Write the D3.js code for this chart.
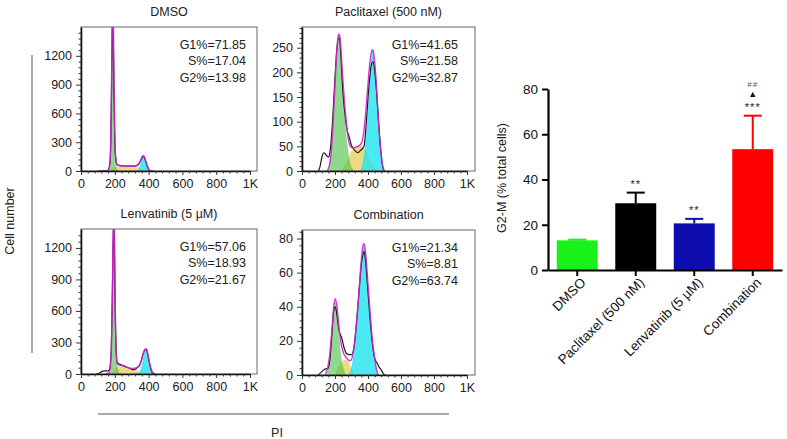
<!DOCTYPE html>
<html><head><meta charset="utf-8">
<script src="https://cdn.jsdelivr.net/npm/d3@7"></script>
<style>body{margin:0;background:#fff}svg{display:block;font-family:"Liberation Sans",Arial,sans-serif}</style>
</head><body><svg id="c" width="787" height="439"></svg>
<script>
// ---------- DATA ----------
const panelTitles = ["DMSO", "Paclitaxel (500 nM)", "Lenvatinib (5 µM)", "Combination"];
const g1Pct = ["71.85", "41.65", "57.06", "21.34"];
const sPct  = ["17.04", "21.58", "18.93", "8.81"];
const g2Pct = ["13.98", "32.87", "21.67", "63.74"];
const histYMax = [1500, 292, 1380, 85];
const histYTicks = [[0,300,600,900,1200],[0,50,100,150,200,250],[0,300,600,900,1200],[0,20,40,60,80]];
const histXTicks = [0,200,400,600,800,1000];
const histXLabels = ["0","200","400","600","800","1K"];

// DMSO
const dmsoData = [[100,0],[140,2],[160,8],[172,100],[178,500],[183,1200],[187,1700],[191,1400],[195,800],[200,300],[206,120],[214,65],[240,55],[280,50],[320,52],[340,70],[355,115],[365,150],[372,150],[382,105],[392,50],[402,12],[412,2],[430,0]];
const dmsoFit  = [[140,0],[160,5],[170,60],[176,300],[180,800],[184,1400],[188,1750],[192,1500],[196,900],[200,400],[205,150],[212,70],[225,55],[260,52],[300,50],[330,55],[345,80],[355,120],[365,160],[372,157],[382,110],[392,55],[402,15],[412,2],[420,0]];
const dmsoG1   = [[150,0],[165,10],[172,80],[178,450],[184,1300],[188,1700],[192,1400],[197,700],[202,250],[208,60],[216,10],[225,0]];
const dmsoS    = [[175,0],[190,30],[210,45],[260,45],[300,44],[330,42],[350,30],[365,12],[380,0]];
const dmsoG2   = [[320,0],[335,10],[345,40],[355,100],[365,155],[372,152],[382,105],[392,50],[402,12],[412,0]];
// Paclitaxel
const pacData = [[100,0],[110,10],[122,30],[133,37],[145,33],[160,28],[172,45],[185,100],[200,190],[212,250],[222,270],[228,268],[236,230],[248,160],[262,110],[272,85],[285,70],[300,52],[320,42],[339,37],[355,42],[376,50],[390,100],[405,170],[420,215],[430,222],[440,205],[452,160],[465,95],[478,40],[490,8],[500,0]];
const pacFit  = [[150,0],[165,10],[180,50],[195,140],[210,240],[220,275],[226,278],[232,265],[245,200],[260,130],[275,80],[290,52],[305,47],[320,48],[340,50],[360,56],[380,95],[395,155],[410,215],[422,242],[428,246],[436,235],[450,180],[462,110],[475,50],[488,12],[497,0]];
const pacG1   = [[155,0],[170,20],[185,80],[200,170],[212,240],[222,275],[228,276],[236,245],[248,175],[260,110],[275,55],[290,20],[305,5],[320,0]];
const pacS    = [[240,0],[260,12],[285,30],[310,45],[340,52],[365,50],[390,38],[415,20],[440,8],[460,0]];
const pacG2   = [[350,0],[370,20],[385,60],[400,130],[412,195],[422,235],[428,244],[436,232],[450,180],[462,110],[475,50],[488,12],[497,0]];
// Lenvatinib
const lenData = [[90,0],[110,8],[125,25],[140,30],[155,28],[168,40],[178,200],[185,700],[190,1250],[194,1450],[198,1250],[202,650],[208,230],[214,110],[222,100],[250,80],[280,60],[310,42],[325,48],[335,66],[345,80],[357,130],[368,195],[378,230],[386,236],[394,195],[404,115],[414,45],[424,10],[440,0]];
const lenFit  = [[140,0],[160,5],[172,40],[180,250],[186,800],[190,1300],[194,1500],[198,1300],[202,700],[207,250],[213,110],[220,90],[240,80],[270,65],[300,52],[320,55],[340,70],[355,120],[368,190],[378,235],[386,240],[394,200],[404,120],[414,50],[424,12],[435,0]];
const lenG1   = [[165,0],[175,30],[182,250],[188,900],[192,1350],[196,1450],[200,1100],[205,500],[212,150],[220,40],[230,5],[240,0]];
const lenS    = [[185,0],[200,40],[215,70],[240,70],[270,60],[300,48],[325,38],[345,22],[365,8],[380,0]];
const lenG2   = [[330,0],[345,20],[357,70],[368,160],[378,228],[386,236],[394,195],[404,115],[414,45],[424,10],[435,0]];
// Combination
const comData = [[97,0],[120,2],[140,3.5],[158,4],[170,10],[182,25],[193,38],[202,40],[212,35],[225,26],[240,22],[255,16],[271,12.5],[285,12],[301,12],[315,16],[330,30],[345,48],[360,65],[370,71],[376,72.5],[384,68],[395,55],[410,36],[425,20],[440,10],[455,7],[465,5],[480,3],[492,1],[503,0]];
const comFit  = [[140,0],[155,4],[168,12],[180,25],[192,40],[202,44.7],[212,40],[225,27],[240,17],[255,12],[270,10],[285,8.5],[295,8.5],[310,13],[325,25],[340,42],[355,62],[368,75],[376,77],[384,73],[395,60],[410,40],[425,22],[440,10],[452,3],[462,0]];
const comG1   = [[150,0],[165,8],[178,20],[190,36],[200,43],[208,42],[218,32],[230,18],[242,8],[255,3],[265,0]];
const comS    = [[200,0],[215,4],[235,7],[260,9],[280,8],[295,5],[310,2],[320,0]];
const comG2   = [[285,0],[300,5],[315,14],[330,28],[345,46],[360,64],[370,74],[376,77],[384,73],[395,60],[410,40],[425,22],[440,10],[452,3],[462,0]];

const histData = [dmsoData, pacData, lenData, comData];
const histFit  = [dmsoFit, pacFit, lenFit, comFit];
const histG1   = [dmsoG1, pacG1, lenG1, comG1];
const histS    = [dmsoS, pacS, lenS, comS];
const histG2   = [dmsoG2, pacG2, lenG2, comG2];

// Bar chart
const barCategories = ["DMSO", "Paclitaxel (500 nM)", "Lenvatinib (5 µM)", "Combination"];
const barValues = [13.1, 29.5, 20.6, 53.4];
const barErrors = [0.3, 4.7, 2.0, 14.8];
const barSig = ["", "**", "**", "***"];
const barYTicks = [0, 20, 40, 60, 80];
const barColors = ["#19f219", "#000000", "#0d0db0", "#ff0000"];

// ---------- DRAW ----------
const svg = d3.select("#c");
const FONT = '"Liberation Sans",Arial,sans-serif';
const layout = [
  {x0:81,  x1k:250, right:257, top:27,  bottom:171, textR:246},
  {x0:302, x1k:467, right:475, top:27,  bottom:171, textR:458},
  {x0:81,  x1k:250, right:257, top:229, bottom:374, textR:246},
  {x0:302, x1k:467, right:475, top:230, bottom:375, textR:458}
];

layout.forEach((L, i) => {
  const g = svg.append("g");
  const x = d3.scaleLinear().domain([0, 1000]).range([L.x0, L.x1k]);
  const y = d3.scaleLinear().domain([0, histYMax[i]]).range([L.bottom, L.top]);
  const clipId = "clip" + i;
  svg.append("clipPath").attr("id", clipId).append("rect")
    .attr("x", L.x0).attr("y", L.top).attr("width", L.right - L.x0).attr("height", L.bottom - L.top);
  const area = d3.area().x(d => x(d[0])).y0(y(0)).y1(d => y(d[1])).curve(d3.curveMonotoneX);
  const line = d3.line().x(d => x(d[0])).y(d => y(d[1])).curve(d3.curveMonotoneX);
  const pg = g.append("g").attr("clip-path", `url(#${clipId})`);
  pg.append("path").datum(histS[i]).attr("d", area).attr("fill", "#e0c640").attr("fill-opacity", 0.65);
  pg.append("path").datum(histG2[i]).attr("d", area).attr("fill", "#1ee4ee").attr("fill-opacity", 0.8);
  pg.append("path").datum(histG1[i]).attr("d", area).attr("fill", "#44c044").attr("fill-opacity", 0.6);
  pg.append("path").datum(histData[i]).attr("d", line).attr("fill", "none").attr("stroke", "#1a1a1a").attr("stroke-width", 1.2);
  pg.append("path").datum(histFit[i]).attr("d", line).attr("fill", "none").attr("stroke", "#cc22cc").attr("stroke-width", 1.4).attr("stroke-opacity", 0.9);

  // frame
  g.append("rect").attr("x", L.x0).attr("y", L.top).attr("width", L.right - L.x0).attr("height", L.bottom - L.top)
    .attr("fill", "none").attr("stroke", "#666").attr("stroke-width", 1);

  // y axis
  const step = histYTicks[i][1] - histYTicks[i][0];
  const minorY = d3.range(0, histYMax[i], step / 5).filter(v => Math.abs(v / step - Math.round(v / step)) > 1e-6);
  g.append("g").attr("transform", `translate(${L.x0},0)`)
    .call(d3.axisLeft(y).tickValues(histYTicks[i]).tickFormat(d3.format("d")).tickSize(5).tickPadding(4).tickSizeOuter(0));
  g.append("g").attr("transform", `translate(${L.x0},0)`)
    .call(d3.axisLeft(y).tickValues(minorY).tickSize(2.5).tickFormat("").tickSizeOuter(0))
    .select(".domain").remove();
  // x axis
  const minorX = d3.range(0, 1040, 40).filter(v => v % 200 !== 0);
  g.append("g").attr("transform", `translate(0,${L.bottom})`)
    .call(d3.axisBottom(x).tickValues(histXTicks).tickFormat((d, k) => histXLabels[k]).tickSize(4).tickPadding(4).tickSizeOuter(0));
  g.append("g").attr("transform", `translate(0,${L.bottom})`)
    .call(d3.axisBottom(x).tickValues(minorX).tickSize(2.5).tickFormat("").tickSizeOuter(0))
    .select(".domain").remove();
  g.selectAll(".domain").attr("stroke", "#111").attr("stroke-width", 1.6);
  g.selectAll(".tick line").attr("stroke", "#333");
  g.selectAll(".tick text").attr("font-size", 12.5).attr("fill", "#222").attr("font-family", FONT);

  // title
  g.append("text").attr("x", (L.x0 + L.right) / 2).attr("y", L.top - 11).attr("text-anchor", "middle")
    .attr("font-size", 12.5).attr("fill", "#222").text(panelTitles[i]);
  // percentages
  const lines = ["G1%=" + g1Pct[i], "S%=" + sPct[i], "G2%=" + g2Pct[i]];
  lines.forEach((t, k) => {
    g.append("text").attr("x", L.textR).attr("y", L.top + 21.5 + k * 16.5).attr("text-anchor", "end")
      .attr("font-size", 12.5).attr("fill", "#222").text(t);
  });
});

// shared labels
svg.append("line").attr("x1", 32).attr("x2", 32).attr("y1", 55).attr("y2", 353).attr("stroke", "#555").attr("stroke-width", 1);
svg.append("text").attr("transform", "translate(14,221) rotate(-90)").attr("text-anchor", "middle")
  .attr("font-size", 12.5).attr("fill", "#222").text("Cell number");
svg.append("line").attr("x1", 98).attr("x2", 449).attr("y1", 414).attr("y2", 414).attr("stroke", "#555").attr("stroke-width", 1);
svg.append("text").attr("x", 277).attr("y", 437).attr("text-anchor", "middle").attr("font-size", 12.5).attr("fill", "#222").text("PI");

// ---------- BAR CHART ----------
const bg = svg.append("g");
const xb = d3.scaleBand().domain(barCategories).range([548, 782]).paddingInner(0.3).paddingOuter(0.15);
const yb = d3.scaleLinear().domain([0, 80]).range([270, 89]);

bg.selectAll("rect.bar").data(barValues).join("rect").attr("class", "bar")
  .attr("x", (d, i) => xb(barCategories[i])).attr("width", xb.bandwidth())
  .attr("y", d => yb(d)).attr("height", d => yb(0) - yb(d)).attr("fill", (d, i) => barColors[i]);

// error bars (upper only)
barValues.forEach((v, i) => {
  const cx = xb(barCategories[i]) + xb.bandwidth() / 2;
  const top = yb(v + barErrors[i]);
  bg.append("line").attr("x1", cx).attr("x2", cx).attr("y1", yb(v)).attr("y2", top)
    .attr("stroke", barColors[i]).attr("stroke-width", 2);
  bg.append("line").attr("x1", cx - 9).attr("x2", cx + 9).attr("y1", top).attr("y2", top)
    .attr("stroke", barColors[i]).attr("stroke-width", 2);
  if (barSig[i]) {
    bg.append("text").attr("x", cx).attr("y", top - 5).attr("text-anchor", "middle")
      .attr("font-size", 11).attr("letter-spacing", 1).attr("fill", "#222").text(barSig[i]);
  }
  if (i === 3) {
    bg.append("text").attr("x", cx).attr("y", top - 19).attr("text-anchor", "middle")
      .attr("font-size", 9).attr("fill", "#111").text("▲");
    bg.append("text").attr("x", cx).attr("y", top - 29).attr("text-anchor", "middle")
      .attr("font-size", 8).attr("letter-spacing", 1).attr("fill", "#555").text("##");
  }
});

const yAx = bg.append("g").attr("transform", "translate(548,0)")
  .call(d3.axisLeft(yb).tickValues(barYTicks).tickSize(6).tickPadding(4).tickSizeOuter(0));
const xAx = bg.append("g").attr("transform", "translate(0,270)")
  .call(d3.axisBottom(xb).tickSize(6).tickSizeOuter(0));
bg.selectAll(".domain").attr("stroke", "#000").attr("stroke-width", 2.2);
bg.selectAll(".tick line").attr("stroke", "#000").attr("stroke-width", 2);
yAx.selectAll("text").attr("font-size", 13.5).attr("fill", "#111").attr("font-family", FONT);
xAx.selectAll("text").attr("font-size", 13.5).attr("fill", "#111").attr("font-family", FONT)
  .attr("x", 0).attr("y", 0).attr("dy", "0.35em").attr("text-anchor", "end")
  .attr("transform", "translate(6,10) rotate(-45)");

bg.append("text").attr("transform", "translate(506,178) rotate(-90)").attr("text-anchor", "middle")
  .attr("font-size", 12.5).attr("fill", "#222").text("G2-M (% total cells)");
</script>
</body></html>
